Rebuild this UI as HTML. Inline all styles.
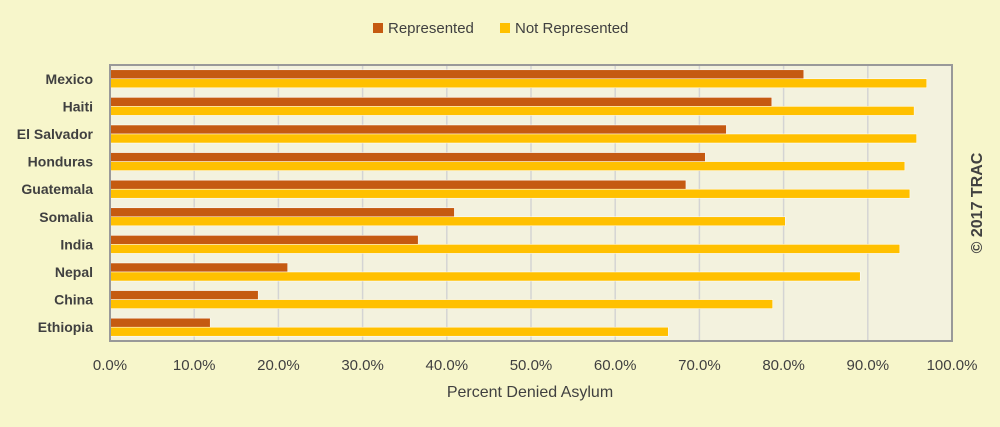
<!DOCTYPE html>
<html><head><meta charset="utf-8"><style>
body{margin:0;background:#f7f6cb;font-family:"Liberation Sans",sans-serif}
svg{display:block}
</style></head><body>
<svg width="1000" height="427">
<rect width="1000" height="427" fill="#f7f6cb"/>
<g id="legend">
<rect x="373" y="23" width="10" height="10" fill="#c55a11"/>
<text x="388" y="33" font-size="15" fill="#404040">Represented</text>
<rect x="500" y="23" width="10" height="10" fill="#ffc000"/>
<text x="515" y="33" font-size="15" fill="#404040">Not Represented</text>
</g>
<rect x="110" y="65" width="842" height="276" fill="#f3f2de"/>
<g id="grid"></g><g id="bars"></g><g id="cats"></g><g id="ticks"></g>
<rect x="110" y="65" width="842" height="276" fill="none" stroke="#999" stroke-width="2"/>
<text x="530" y="397" font-size="16" fill="#404040" text-anchor="middle">Percent Denied Asylum</text>
<text transform="translate(982,203) rotate(-90)" font-size="16" font-weight="bold" fill="#404040" text-anchor="middle">© 2017 TRAC</text>
</svg>
<script>
const categories=["Mexico","Haiti","El Salvador","Honduras","Guatemala","Somalia","India","Nepal","China","Ethiopia"];
const represented=[82.4,78.6,73.2,70.7,68.4,40.9,36.6,21.1,17.6,11.9];
const notRepresented=[97.0,95.5,95.8,94.4,95.0,80.2,93.8,89.1,78.7,66.3];
const tickLabels=["0.0%","10.0%","20.0%","30.0%","40.0%","50.0%","60.0%","70.0%","80.0%","90.0%","100.0%"];
const tickValues=[0,10,20,30,40,50,60,70,80,90,100];
const NS="http://www.w3.org/2000/svg";
const X0=110,X1=952,Y0=65,Y1=341;
const x=v=>X0+(X1-X0)*v/100;
const band=(Y1-Y0)/categories.length;
const yc=i=>Y0+band*(i+0.5);
function mk(tag,attrs,parent){const e=document.createElementNS(NS,tag);for(const k in attrs)e.setAttribute(k,attrs[k]);document.getElementById(parent).appendChild(e);return e;}
tickValues.forEach((v,i)=>{
 if(v>0&&v<100){const l=mk("line",{x1:x(v),x2:x(v),y1:Y0,y2:Y1,stroke:"#d4d4d4","stroke-width":1.5},"grid");
 
 }
 const t=mk("text",{x:x(v),y:370,"font-size":15,fill:"#404040","text-anchor":"middle"},"ticks");
 t.textContent=tickLabels[i];
 
 
});
categories.forEach((c,i)=>{
 const cy=yc(i);
 const r=mk("rect",{x:X0,y:cy-9,width:x(represented[i])-X0,height:9,fill:"#c55a11",stroke:"#fff","stroke-width":0.5},"bars");
 
 
 const n=mk("rect",{x:X0,y:cy,width:x(notRepresented[i])-X0,height:9,fill:"#ffc000",stroke:"#fff","stroke-width":0.5},"bars");
 
 
 const t=mk("text",{x:93,y:cy+5,"font-size":14,"font-weight":"bold",fill:"#404040","text-anchor":"end"},"cats");
 t.textContent=c;
 
 
});
</script>
</body></html>
